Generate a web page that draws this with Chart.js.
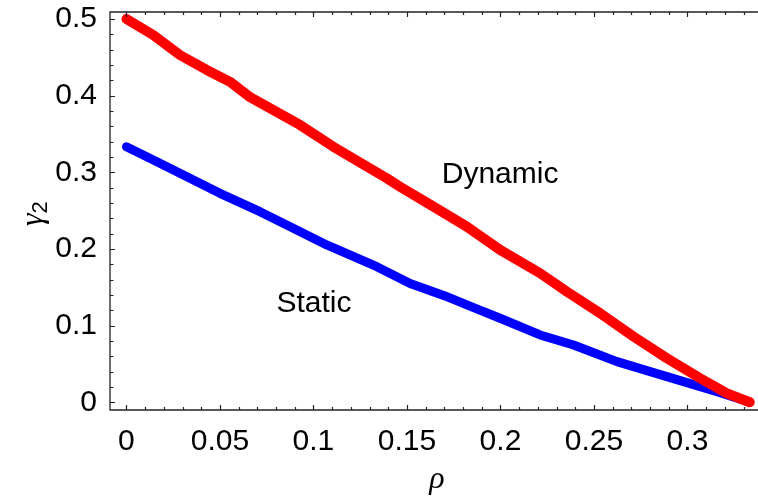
<!DOCTYPE html>
<html>
<head>
<meta charset="utf-8">
<script src="https://cdn.jsdelivr.net/npm/chart.js@4/dist/chart.umd.min.js"></script>
<style>
  html, body { margin: 0; padding: 0; background: #fff; overflow: hidden; }
  #wrap { width: 780px; height: 496px; position: relative; }
</style>
</head>
<body>
<div id="wrap"><canvas id="chart"></canvas></div>
<script>
// ===== Data =====
const dynamicRho   = [0, 0.0143, 0.0286, 0.0429, 0.0554, 0.0661, 0.0928, 0.1106, 0.1392, 0.1463, 0.1642, 0.1820, 0.1998, 0.2212, 0.2355, 0.2533, 0.2712, 0.2890, 0.3068, 0.3211, 0.3333];
const dynamicGamma = [0.5, 0.479, 0.453, 0.4335, 0.418, 0.398, 0.3617, 0.3334, 0.2922, 0.2812, 0.2552, 0.2291, 0.1987, 0.1683, 0.1443, 0.1161, 0.0856, 0.0574, 0.0313, 0.0117, 0];

const staticRho   = [0, 0.0179, 0.0393, 0.05, 0.0714, 0.0892, 0.1071, 0.1339, 0.1517, 0.17, 0.185, 0.1998, 0.2212, 0.2391, 0.2623, 0.289, 0.3158, 0.3333];
const staticGamma = [0.3334, 0.3118, 0.2857, 0.2726, 0.2486, 0.2270, 0.2052, 0.1769, 0.155, 0.139, 0.124, 0.1096, 0.0878, 0.0747, 0.053, 0.0334, 0.0138, 0];

const xTicks = [0, 0.05, 0.1, 0.15, 0.2, 0.25, 0.3];
const yTicks = [0, 0.1, 0.2, 0.3, 0.4, 0.5];
const xMinor = 0.01;
const yMinor = 0.02;

const labels = [
  { text: "Dynamic", x: 0.1998, y: 0.286 },
  { text: "Static",  x: 0.1003, y: 0.1178 },
];

const toPoints = (xs, ys) => xs.map((x, i) => ({ x: x, y: ys[i] }));

// frame, inward ticks, curve labels and axis titles
const framePlugin = {
  id: "frame",
  afterDraw(chart) {
    const ctx = chart.ctx;
    const a = chart.chartArea;
    const xs = chart.scales.x;
    const ys = chart.scales.y;
    ctx.save();
    ctx.strokeStyle = "#222";
    ctx.lineWidth = 1.3;
    ctx.beginPath();
    ctx.moveTo(chart.width, a.top); ctx.lineTo(a.left, a.top);
    ctx.lineTo(a.left, a.bottom); ctx.lineTo(chart.width, a.bottom);
    ctx.stroke();

    ctx.lineWidth = 1.2;
    ctx.beginPath();
    // x ticks (bottom and top)
    for (let v = 0; v <= xs.max + 1e-9; v += xMinor) {
      const val = Math.round(v * 100) / 100;
      const major = xTicks.some((t) => Math.abs(t - val) < 1e-6);
      const len = major ? 5 : 3;
      const px = Math.round(xs.getPixelForValue(val)) + 0.5;
      ctx.moveTo(px, a.bottom); ctx.lineTo(px, a.bottom - len);
      ctx.moveTo(px, a.top); ctx.lineTo(px, a.top + len);
    }
    // y ticks (left side only, right frame falls outside the picture)
    for (let v = 0; v <= ys.max + 1e-9; v += yMinor) {
      const val = Math.round(v * 100) / 100;
      const major = yTicks.some((t) => Math.abs(t - val) < 1e-6);
      const len = major ? 5 : 3.5;
      const py = Math.round(ys.getPixelForValue(val)) + 0.5;
      ctx.moveTo(a.left, py); ctx.lineTo(a.left + len, py);
    }
    ctx.stroke();

    // curve labels
    ctx.fillStyle = "#000";
    ctx.font = "30px 'Liberation Sans', Arial, sans-serif";
    ctx.textAlign = "center";
    ctx.textBaseline = "alphabetic";
    labels.forEach((l) => {
      ctx.fillText(l.text, xs.getPixelForValue(l.x), ys.getPixelForValue(l.y));
    });

    // x title
    ctx.font = "italic 32px 'Liberation Serif', 'DejaVu Serif', serif";
    ctx.fillText("ρ", 437, 488);

    // y title, rotated
    ctx.translate(42, 212);
    ctx.rotate(-Math.PI / 2);
    ctx.textAlign = "left";
    ctx.font = "italic 32px 'Liberation Serif', 'DejaVu Serif', serif";
    ctx.fillText("γ", -14, 0);
    const gw = ctx.measureText("γ").width;
    ctx.font = "22px 'Liberation Sans', Arial, sans-serif";
    ctx.fillText("2", -14 + gw, 5);
    ctx.restore();
  },
};

const tickFont = { family: "'Liberation Sans', Arial, sans-serif", size: 30 };

new Chart(document.getElementById("chart"), {
  type: "scatter",
  data: {
    datasets: [
      {
        label: "Dynamic",
        data: toPoints(dynamicRho, dynamicGamma),
        showLine: true,
        borderColor: "#ff0000",
        borderWidth: 10,
        borderCapStyle: "round",
        borderJoinStyle: "round",
        pointRadius: 0,
        tension: 0,
      },
      {
        label: "Static",
        data: toPoints(staticRho, staticGamma),
        showLine: true,
        borderColor: "#0000ff",
        borderWidth: 9,
        borderCapStyle: "round",
        borderJoinStyle: "round",
        pointRadius: 0,
        tension: 0,
      },
    ],
  },
  options: {
    responsive: true,
    maintainAspectRatio: false,
    animation: false,
    layout: { padding: { top: 12, right: 14, left: 0, bottom: 0 } },
    plugins: { legend: { display: false }, tooltip: { enabled: false } },
    scales: {
      x: {
        type: "linear",
        min: -0.0088,
        max: 0.342,
        afterBuildTicks: (s) => { s.ticks = xTicks.map((v) => ({ value: v })); },
        afterFit: (s) => { s.height = 86; s.paddingLeft = 0; s.paddingRight = 0; },
        grid: { display: false, drawTicks: false },
        border: { display: false },
        ticks: { font: tickFont, color: "#000", padding: 14, maxRotation: 0, callback: (v) => String(v) },
      },
      y: {
        type: "linear",
        min: -0.0101,
        max: 0.5091,
        afterBuildTicks: (s) => { s.ticks = yTicks.map((v) => ({ value: v })); },
        afterFit: (s) => { s.width = 110; s.paddingTop = 0; s.paddingBottom = 0; },
        grid: { display: false, drawTicks: false },
        border: { display: false },
        ticks: { font: tickFont, color: "#000", padding: 13, callback: (v) => String(v) },
      },
    },
  },
  plugins: [framePlugin],
});
</script>
</body>
</html>
